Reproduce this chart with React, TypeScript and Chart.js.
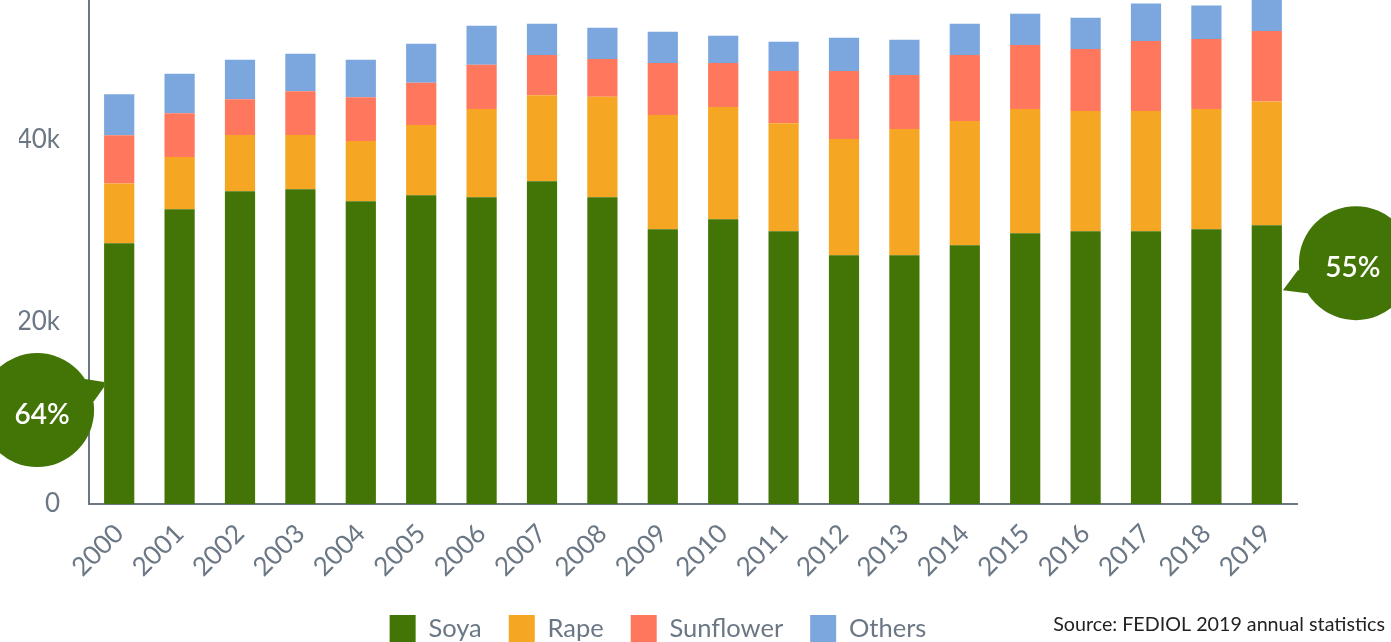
import React, { useEffect, useRef } from 'react';
import { Chart, registerables } from 'chart.js';

Chart.register(...registerables);

const years = ['2000','2001','2002','2003','2004','2005','2006','2007','2008','2009','2010','2011','2012','2013','2014','2015','2016','2017','2018','2019'];
const soya = [28650, 32400, 34380, 34600, 33280, 33940, 33720, 35480, 33720, 30190, 31290, 29970, 27330, 27330, 28430, 29750, 29970, 29970, 30190, 30630];
const rape = [6580, 5730, 6170, 5950, 6610, 7710, 9700, 9450, 11020, 12560, 12350, 11870, 12780, 13880, 13660, 13670, 13230, 13230, 13230, 13610];
const sunflower = [5290, 4810, 3930, 4820, 4820, 4630, 4840, 4400, 4150, 5700, 4810, 5730, 7460, 5920, 7240, 7020, 6790, 7680, 7680, 7740];
const others = [4520, 4330, 4340, 4110, 4110, 4300, 4300, 3450, 3450, 3450, 3010, 3230, 3670, 3890, 3450, 3440, 3450, 4110, 3670, 3670];

const seriesNames = ['Soya', 'Rape', 'Sunflower', 'Others'];
const seriesColors = ['#437506', '#F5A623', '#FF775C', '#7BA7DE'];
const yTickValues = [0, 20000, 40000, 60000];
const shareLabels = ['64%', '55%'];
const sourceText = 'Source: FEDIOL 2019 annual statistics';

const GREY = '#6b7785';
const CANVAS_W = 1391;
const CANVAS_H = 764;
const CANVAS_TOP = -102;

export default function App() {
  const ref = useRef<HTMLCanvasElement>(null);

  useEffect(() => {
    if (!ref.current) return;
    Chart.defaults.font.family = 'Lato';

    const bubblePlugin = {
      id: 'shareBubbles',
      afterDraw(chart: any) {
        const ctx = chart.ctx;
        const y = chart.scales.y;
        const meta = chart.getDatasetMeta(0);
        const first: any = meta.data[0];
        const last: any = meta.data[meta.data.length - 1];
        const color = seriesColors[0];
        const r = 57;

        const draw = (cx: number, cy: number, pts: number[][], text: string, dx: number) => {
          ctx.save();
          ctx.fillStyle = color;
          ctx.beginPath();
          ctx.moveTo(cx + pts[0][0], cy + pts[0][1]);
          for (let i = 1; i < pts.length; i++) ctx.lineTo(cx + pts[i][0], cy + pts[i][1]);
          ctx.closePath();
          ctx.fill();
          ctx.beginPath();
          ctx.arc(cx, cy, r, 0, Math.PI * 2);
          ctx.fill();
          ctx.fillStyle = '#ffffff';
          ctx.font = '600 28px Lato';
          ctx.textAlign = 'center';
          ctx.textBaseline = 'middle';
          ctx.fillText(text, cx + dx, cy + 5);
          ctx.restore();
        };

        // left bubble (first year)
        const lTipX = first.x - first.width / 2;
        const lTipY = y.getPixelForValue(13400);
        const lcx = lTipX - 67;
        const lcy = lTipY + 28;
        draw(lcx, lcy, [[0, -20], [48, -31], [67, -28], [67, -23], [57, -9], [0, 0]], shareLabels[0], 5);

        // right bubble (last year)
        const rTipX = last.x + last.width / 2 + 1;
        const rTipY = y.getPixelForValue(23500);
        const rcx = rTipX + 73;
        const rcy = rTipY - 27;
        draw(rcx, rcy, [[0, 0], [-58, 7], [-73, 27], [-49, 30], [0, 20]], shareLabels[1], -3);

        // source note
        ctx.save();
        ctx.fillStyle = '#222222';
        ctx.font = '19.7px Lato';
        ctx.textAlign = 'right';
        ctx.textBaseline = 'alphabetic';
        ctx.fillText(sourceText, chart.width - 6, chart.legend.top + 43);
        ctx.restore();
      },
    };

    const series = [soya, rape, sunflower, others];
    const chart = new Chart(ref.current, {
      type: 'bar',
      data: {
        labels: years,
        datasets: series.map((d, i) => ({
          label: seriesNames[i],
          data: d,
          backgroundColor: seriesColors[i],
          borderWidth: 0,
          barPercentage: 0.5,
          categoryPercentage: 1.0,
        })),
      },
      options: {
        responsive: false,
        animation: false,
        layout: { padding: { left: 19, right: 94, top: 60, bottom: 10 } },
        plugins: {
          tooltip: { enabled: false },
          legend: {
            position: 'bottom',
            labels: {
              color: GREY,
              font: { size: 25.5, family: 'Lato' },
              boxWidth: 26,
              boxHeight: 27,
              padding: 27,
            },
          },
        },
        scales: {
          x: {
            stacked: true,
            grid: { display: false, drawTicks: false },
            border: { display: true, color: GREY, width: 2 },
            ticks: {
              color: GREY,
              font: { size: 26, family: 'Lato' },
              maxRotation: 45,
              minRotation: 45,
              padding: 14,
              autoSkip: false,
            },
            afterFit: (scale: any) => { scale.height = 84; },
          },
          y: {
            stacked: true,
            min: 0,
            max: 60000,
            grid: { display: false, drawTicks: false },
            border: { display: true, color: GREY, width: 2 },
            afterBuildTicks: (scale: any) => {
              scale.ticks = yTickValues.map((v) => ({ value: v }));
            },
            ticks: {
              color: GREY,
              font: { size: 26, family: 'Lato' },
              padding: 29,
              callback: (v: any) => (Number(v) === 0 ? '0' : Number(v) / 1000 + 'k'),
            },
            afterFit: (scale: any) => { scale.width = 70; },
          },
        },
      },
      plugins: [bubblePlugin],
    });
    return () => chart.destroy();
  }, []);

  return (
    <div style={{ position: 'fixed', left: 0, top: 0, width: '100vw', height: '100vh', overflow: 'hidden', background: '#fff' }}>
      <canvas
        ref={ref}
        width={CANVAS_W}
        height={CANVAS_H}
        style={{ position: 'absolute', left: 0, top: CANVAS_TOP, width: CANVAS_W, height: CANVAS_H }}
      />
    </div>
  );
}
